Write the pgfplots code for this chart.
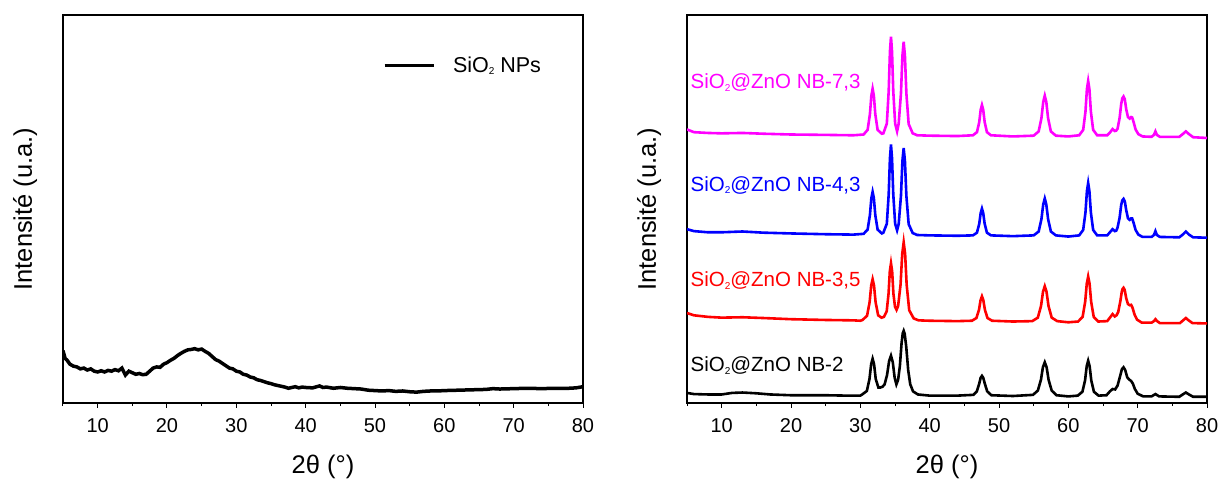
\documentclass[border=0pt]{standalone}
\usepackage{fontspec}
\setmainfont{Liberation Sans}
\usepackage{pgfplots}
\pgfplotsset{compat=1.18}
\definecolor{mag}{RGB}{255,0,255}
\definecolor{blu}{RGB}{0,0,255}
\definecolor{rd}{RGB}{255,0,0}
\newcommand{\sub}[1]{\raisebox{-2.8pt}{\fontsize{10}{12}\selectfont #1}}
\pgfplotsset{
  myax/.style={
    scale only axis, width=520pt, height=388pt,
    xmin=5, xmax=80, ymin=0, ymax=1,
    xtick={10,20,...,80}, minor xtick={5,15,...,75},
    ytick=\empty,
    tick align=outside, xtick pos=bottom,
    major tick length=4.5pt, minor tick length=3pt,
    every tick/.style={black, line width=1pt},
    axis line style={line width=1.2pt},
    tick label style={font=\fontsize{20}{24}\selectfont},
    xticklabel style={yshift=-8pt},
    /pgf/number format/assume math mode=true,
    xlabel={2θ (°)}, ylabel={Intensité (u.a.)},
    label style={font=\fontsize{25.5}{30}\selectfont},
    xlabel style={at={(axis description cs:0.5,-0.165)}, anchor=center},
    ylabel style={at={(axis description cs:-0.073,0.5)}, anchor=center},
  }
}
\begin{document}
\begin{tikzpicture}[x=1pt,y=1pt]
\useasboundingbox (0,0) rectangle (1218,479);
% ---------------- left panel
\begin{axis}[myax, at={(63pt,76pt)}, anchor=south west,
  legend style={at={(axis description cs:0.615,0.871)}, anchor=west, draw=none, fill=none,
    font=\fontsize{21.5}{24}\selectfont, inner sep=0pt},
  legend cell align=left,
  legend image code/.code={\draw[line width=3pt] (0pt,0pt) -- (49pt,0pt);}]
\addplot[black, line width=3.5pt] coordinates {
(5,0.135) (5.3,0.115) (5.6,0.110) (6,0.100) (6.5,0.095) (7,0.093) (7.5,0.088) (8,0.090) (8.5,0.085) (9,0.088) (9.5,0.082) (10,0.080) (10.5,0.083) (11,0.080) (11.5,0.084) (12,0.082) (12.5,0.086) (13,0.083) (13.5,0.090) (14,0.072) (14.5,0.082) (15,0.078) (15.5,0.074) (16,0.076) (16.5,0.073) (17,0.074) (17.5,0.082) (18,0.090) (18.5,0.093) (19,0.092) (19.5,0.100) (20,0.104) (20.5,0.110) (21,0.115) (21.5,0.122) (22,0.128) (22.5,0.133) (23,0.137) (23.5,0.138) (24,0.140) (24.5,0.137) (25,0.139) (25.5,0.133) (26,0.128) (26.5,0.120) (27,0.112) (27.5,0.108) (28,0.102) (28.5,0.096) (29,0.090) (29.5,0.088) (30,0.082) (30.5,0.080) (31,0.074) (31.5,0.072) (32,0.067) (32.5,0.065) (33,0.060) (33.5,0.058) (34,0.055) (34.5,0.052) (35,0.050) (35.5,0.047) (36,0.045) (36.5,0.043) (37,0.041) (37.5,0.038) (38,0.040) (38.5,0.042) (39,0.039) (39.5,0.041) (40,0.040) (41,0.039) (42,0.044) (42.5,0.040) (43,0.041) (44,0.038) (45,0.040) (46,0.038) (47,0.037) (48,0.036) (49,0.033) (50,0.032) (51,0.031) (52,0.032) (53,0.030) (54,0.031) (55,0.029) (56,0.028) (57,0.030) (58,0.031) (59,0.031) (60,0.032) (62,0.033) (64,0.034) (66,0.035) (67,0.037) (68,0.036) (70,0.037) (72,0.038) (74,0.037) (76,0.038) (78,0.038) (79,0.039) (80,0.042)
};
\addlegendentry{\hspace{16pt}SiO\sub{2} NPs}
\end{axis}
% ---------------- right panel
\begin{axis}[myax, at={(687pt,76pt)}, anchor=south west]
% black NB-2
\addplot[black, line width=2.6pt] coordinates {
(5,0.026) (6,0.023) (8,0.022) (10,0.022) (11.5,0.026) (13,0.027) (15,0.025) (17,0.022) (20,0.020) (25,0.020) (28,0.019) (30,0.019)
(30.27,0.022) (30.94,0.031) (31.32,0.062) (31.56,0.100) (31.77,0.114) (31.98,0.100) (32.22,0.062) (32.6,0.040) (32.9,0.040) (33.2,0.042)
(33.5,0.048) (33.85,0.072) (34.15,0.108) (34.42,0.122) (34.68,0.105) (34.95,0.065) (35.2,0.048)
(35.45,0.060) (35.7,0.095) (35.95,0.155) (36.12,0.180) (36.25,0.186) (36.4,0.178) (36.62,0.145) (36.9,0.085) (37.2,0.048) (37.6,0.030) (38.3,0.022) (40,0.019) (44,0.019)
(46.3,0.021) (46.8,0.030) (47.15,0.050) (47.35,0.065) (47.54,0.070) (47.73,0.065) (47.95,0.050) (48.3,0.030) (48.9,0.020) (52,0.018)
(54.9,0.021) (55.6,0.032) (56.05,0.060) (56.33,0.092) (56.6,0.105) (56.87,0.092) (57.15,0.060) (57.6,0.032) (58.3,0.020) (60,0.017)
(61.36,0.019) (62.03,0.029) (62.41,0.058) (62.65,0.095) (62.86,0.109) (63.07,0.095) (63.31,0.058) (63.69,0.029) (64.36,0.019)
(65.5,0.020) (66.0,0.030) (66.38,0.036) (66.75,0.035)
(67.1,0.045) (67.45,0.068) (67.72,0.087) (67.96,0.092) (68.2,0.085) (68.5,0.066) (68.8,0.060) (69.05,0.057) (69.3,0.050) (69.6,0.036) (70.0,0.024) (70.8,0.017)
(72.0,0.017) (72.56,0.023) (73.1,0.017) (76.0,0.016) (76.5,0.022) (76.95,0.027) (77.4,0.022) (78.0,0.016) (80,0.016)
};
% red NB-3,5
\addplot[rd, line width=2.6pt] coordinates {
(5,0.232) (6,0.226) (8,0.222) (10,0.220) (13,0.221) (16,0.219) (20,0.216) (25,0.214) (29,0.213) (30,0.212)
(30.32,0.214) (30.97,0.225) (31.34,0.260) (31.57,0.303) (31.77,0.319) (31.97,0.303) (32.2,0.260) (32.57,0.226) (33.05,0.220)
(33.4,0.222) (33.8,0.236) (34.07,0.282) (34.25,0.339) (34.42,0.360) (34.59,0.339) (34.77,0.282) (35.0,0.248) (35.22,0.240)
(35.45,0.250) (35.8,0.305) (36.04,0.384) (36.25,0.414) (36.46,0.384) (36.68,0.305) (37.05,0.239) (37.7,0.218) (38.4,0.213) (40,0.212) (44,0.211)
(46.1,0.212) (46.74,0.219) (47.11,0.240) (47.34,0.265) (47.54,0.275) (47.74,0.265) (47.97,0.240) (48.34,0.219) (49.0,0.212) (52,0.210)
(54.8,0.211) (55.6,0.220) (56.06,0.250) (56.35,0.287) (56.6,0.301) (56.85,0.287) (57.14,0.250) (57.6,0.220) (58.4,0.211) (60,0.208)
(61.41,0.210) (62.06,0.222) (62.43,0.261) (62.66,0.308) (62.86,0.326) (63.06,0.308) (63.29,0.261) (63.66,0.222) (64.3,0.210)
(65.6,0.211) (66.0,0.220) (66.38,0.229) (66.7,0.223) (66.95,0.226)
(67.2,0.235) (67.5,0.262) (67.7,0.286) (67.82,0.294) (67.96,0.297) (68.12,0.292) (68.35,0.270) (68.6,0.255) (68.85,0.252) (69.05,0.253) (69.25,0.246) (69.55,0.228) (69.9,0.215) (70.6,0.207)
(72.0,0.207) (72.35,0.211) (72.56,0.216) (72.8,0.211) (73.2,0.206) (76.1,0.206) (76.55,0.213) (76.95,0.219) (77.35,0.213) (77.9,0.206) (80,0.205)
};
% blue NB-4,3
\addplot[blu, line width=2.6pt] coordinates {
(5,0.448) (6,0.443) (8,0.440) (10,0.440) (13,0.442) (16,0.439) (20,0.437) (25,0.435) (29,0.434)
(30.47,0.436) (31.05,0.447) (31.38,0.484) (31.59,0.528) (31.77,0.544) (31.95,0.528) (32.16,0.484) (32.49,0.447) (33.1,0.437)
(33.32,0.439) (33.82,0.462) (34.09,0.538) (34.27,0.631) (34.42,0.666) (34.57,0.631) (34.75,0.538) (35.02,0.462) (35.3,0.445)
(35.53,0.461) (35.86,0.534) (36.07,0.624) (36.25,0.657) (36.43,0.624) (36.64,0.534) (36.97,0.461) (37.55,0.438) (38.2,0.433) (40,0.432) (44,0.431)
(46.24,0.432) (46.82,0.439) (47.15,0.462) (47.36,0.490) (47.54,0.501) (47.72,0.490) (47.93,0.462) (48.26,0.439) (48.84,0.432) (52,0.430)
(55.0,0.432) (55.72,0.442) (56.12,0.474) (56.38,0.512) (56.6,0.527) (56.82,0.512) (57.08,0.474) (57.48,0.442) (58.2,0.432) (60,0.429)
(61.56,0.432) (62.14,0.446) (62.47,0.491) (62.68,0.546) (62.86,0.567) (63.04,0.546) (63.25,0.491) (63.58,0.446) (64.16,0.432)
(65.6,0.432) (66.0,0.440) (66.38,0.448) (66.7,0.443) (66.9,0.444)
(67.1,0.452) (67.4,0.478) (67.62,0.510) (67.78,0.522) (67.96,0.526) (68.14,0.520) (68.35,0.497) (68.6,0.476) (68.85,0.472) (69.05,0.476) (69.2,0.476) (69.4,0.465) (69.7,0.446) (70.1,0.434) (70.7,0.428)
(72.0,0.428) (72.35,0.433) (72.56,0.443) (72.77,0.433) (73.2,0.428) (76.0,0.427) (76.5,0.434) (76.95,0.442) (77.4,0.434) (78.0,0.427) (80,0.426)
};
% magenta NB-7,3
\addplot[mag, line width=2.6pt] coordinates {
(5,0.705) (6,0.698) (8,0.696) (10,0.695) (13,0.696) (16,0.694) (20,0.692) (25,0.691) (29,0.690)
(30.47,0.692) (31.05,0.704) (31.38,0.744) (31.59,0.792) (31.77,0.810) (31.95,0.792) (32.16,0.744) (32.49,0.704) (33.1,0.694)
(33.32,0.695) (33.82,0.720) (34.09,0.804) (34.27,0.906) (34.42,0.944) (34.57,0.906) (34.75,0.804) (35.02,0.720) (35.3,0.700)
(35.53,0.720) (35.86,0.798) (36.07,0.895) (36.25,0.931) (36.43,0.895) (36.64,0.798) (36.97,0.719) (37.55,0.695) (38.2,0.690) (40,0.689) (44,0.688)
(46.24,0.690) (46.82,0.698) (47.15,0.724) (47.36,0.756) (47.54,0.768) (47.72,0.756) (47.93,0.724) (48.26,0.698) (48.84,0.690) (52,0.687)
(55.0,0.689) (55.72,0.700) (56.12,0.734) (56.38,0.776) (56.6,0.792) (56.82,0.776) (57.08,0.734) (57.48,0.700) (58.2,0.689) (60,0.687)
(61.56,0.690) (62.14,0.704) (62.47,0.751) (62.68,0.809) (62.86,0.830) (63.04,0.809) (63.25,0.751) (63.58,0.704) (64.16,0.690)
(65.6,0.690) (66.0,0.697) (66.38,0.706) (66.7,0.701) (66.9,0.702)
(67.1,0.707) (67.4,0.735) (67.62,0.770) (67.78,0.785) (67.96,0.790) (68.14,0.783) (68.35,0.757) (68.6,0.737) (68.85,0.733) (69.05,0.737) (69.2,0.736) (69.4,0.725) (69.7,0.705) (70.1,0.693) (70.7,0.687)
(72.0,0.686) (72.35,0.691) (72.56,0.700) (72.77,0.691) (73.2,0.686) (76.0,0.686) (76.5,0.693) (76.95,0.700) (77.4,0.693) (78.0,0.685) (80,0.683)
};
\begin{scope}[font=\fontsize{20.5}{24}\selectfont]
\node[anchor=base west, text=mag, inner sep=0pt] at (axis cs:5.5,0.810) {SiO\sub{2}@ZnO NB-7,3};
\node[anchor=base west, text=blu, inner sep=0pt] at (axis cs:5.5,0.546) {SiO\sub{2}@ZnO NB-4,3};
\node[anchor=base west, text=rd, inner sep=0pt] at (axis cs:5.5,0.300) {SiO\sub{2}@ZnO NB-3,5};
\node[anchor=base west, text=black, inner sep=0pt] at (axis cs:5.5,0.081) {SiO\sub{2}@ZnO NB-2};
\end{scope}
\end{axis}
\end{tikzpicture}
\end{document}
